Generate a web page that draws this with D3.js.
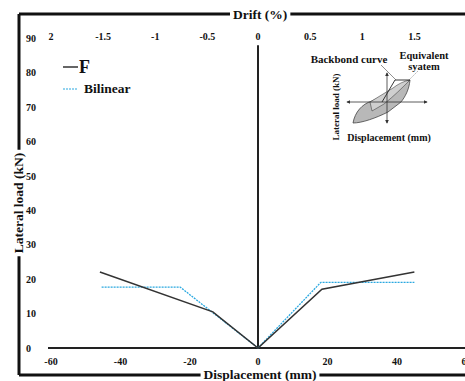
<!DOCTYPE html>
<html>
<meta charset="utf-8">
<head>
<style>
body { margin: 0; background: #fff; }
text { font-family: "Liberation Serif", "Times New Roman", serif; font-weight: bold; fill: #111; }
</style>
</head>
<body>
<svg width="465" height="381"></svg>
<script src="https://cdn.jsdelivr.net/npm/d3@7/dist/d3.min.js"></script>
<script>

// data
var fDisp = [-45.5, -13, 0, 18.4, 45];
var fLoad = [22.1, 10.5, 0, 17.1, 22.1];
var biDisp = [-45, -22.4, 0, 18.1, 45];
var biLoad = [17.7, 17.7, 0, 19.1, 19.1];

var xTicks = [-60, -40, -20, 0, 20, 40, 60];
var yTicks = [0, 10, 20, 30, 40, 50, 60, 70, 80, 90];
var driftTicks = [-2, -1.5, -1, -0.5, 0, 0.5, 1, 1.5];
var driftLabels = ["2", "-1.5", "-1", "-0.5", "0", "0.5", "1", "1.5"];

var svg = d3.select("svg"),
    width = +svg.attr("width"),
    height = +svg.attr("height");

var x = d3.scaleLinear().domain([-60, 60]).range([49.5, 466.5]);
var xDrift = d3.scaleLinear().domain([-2, 2]).range([49.5, 466.5]);
var y = d3.scaleLinear().domain([0, 90]).range([348, 38.4]);

// frame with gaps for titles
var L = 19, T = 14, B = 375;

var driftT = svg.append("text").attr("x", 233).attr("y", 18.5)
    .style("font-size", "13.5px").text("Drift (%)");
var dispT = svg.append("text").attr("x", 260).attr("y", 378.5)
    .attr("text-anchor", "middle").style("font-size", "13.5px").text("Displacement (mm)");
var loadT = svg.append("text").attr("transform", "translate(23,203) rotate(-90)")
    .attr("text-anchor", "middle").style("font-size", "13.5px").text("Lateral load (kN)");

var db = driftT.node().getBBox(), bb = dispT.node().getBBox(), lb = loadT.node().getBBox();

var frame = [
  [L, T, db.x - 3, T],
  [db.x + db.width + 3, T, width, T],
  [L, T, L, 203 - lb.width / 2 - 3],
  [L, 203 + lb.width / 2 + 3, L, B],
  [L, B, bb.x - 3, B],
  [bb.x + bb.width + 3, B, width, B]
];
svg.append("g").selectAll("line").data(frame).enter().append("line")
    .attr("x1", function(d) { return d[0]; }).attr("y1", function(d) { return d[1]; })
    .attr("x2", function(d) { return d[2]; }).attr("y2", function(d) { return d[3]; })
    .attr("stroke", "#111").attr("stroke-width", 3);

// zero axes
svg.append("line").attr("x1", 48).attr("x2", width).attr("y1", y(0)).attr("y2", y(0))
    .attr("stroke", "#222").attr("stroke-width", 2);
svg.append("line").attr("x1", x(0)).attr("x2", x(0)).attr("y1", y(0)).attr("y2", y(88))
    .attr("stroke", "#222").attr("stroke-width", 2);

// tick labels
svg.append("g").selectAll("text").data(xTicks).enter().append("text")
    .attr("x", function(d) { return x(d) + (d < 0 ? 1.5 : 0); }).attr("y", 365)
    .attr("text-anchor", "middle").style("font-size", "10px")
    .text(function(d) { return d; });

svg.append("g").selectAll("text").data(yTicks).enter().append("text")
    .attr("x", 26).attr("y", function(d) { return y(d) + 3.5; })
    .style("font-size", "10px")
    .text(function(d) { return d; });

svg.append("g").selectAll("text").data(driftTicks).enter().append("text")
    .attr("x", function(d) { return xDrift(d) + (d < 0 ? 1.5 : 0); }).attr("y", 40)
    .attr("text-anchor", "middle").style("font-size", "10px")
    .text(function(d, i) { return driftLabels[i]; });

// series
var line = d3.line().x(function(d) { return x(d[0]); }).y(function(d) { return y(d[1]); });

svg.append("path").datum(biDisp.map(function(d, i) { return [d, biLoad[i]]; }))
    .attr("d", line).attr("fill", "none").attr("stroke", "#2aa8e0")
    .attr("stroke-width", 1.3).attr("stroke-dasharray", "2,1");

svg.append("path").datum(fDisp.map(function(d, i) { return [d, fLoad[i]]; }))
    .attr("d", line).attr("fill", "none").attr("stroke", "#333")
    .attr("stroke-width", 1.5);

// legend
svg.append("line").attr("x1", 63).attr("x2", 78).attr("y1", 67).attr("y2", 67)
    .attr("stroke", "#333").attr("stroke-width", 1.5);
svg.append("text").attr("x", 79).attr("y", 73).style("font-size", "18px").text("F");
svg.append("line").attr("x1", 63).attr("x2", 78).attr("y1", 89).attr("y2", 89)
    .attr("stroke", "#2aa8e0").attr("stroke-width", 1.2).attr("stroke-dasharray", "2,1");
svg.append("text").attr("x", 84).attr("y", 93).style("font-size", "13.5px").text("Bilinear");

// inset sketch
var ins = svg.append("g");
var ix = 387, iy = 102;
ins.append("defs").append("marker").attr("id", "ar").attr("viewBox", "0 0 6 6")
    .attr("refX", 5).attr("refY", 3).attr("markerWidth", 5).attr("markerHeight", 5)
    .attr("orient", "auto-start-reverse")
  .append("path").attr("d", "M0,0L6,3L0,6Z").attr("fill", "#333");

ins.append("path")
    .attr("d", "M353,123 C355,112 362,104 372,101 L393,91 C400,85 405,82 410,80 C409,90 405,97 401,102 L388,112 C376,118 362,123 353,123 Z")
    .attr("fill", "#b8b8b8").attr("stroke", "#444").attr("stroke-width", 0.8);
ins.append("path")
    .attr("d", "M370,102 L393,88 C398,84 404,81 410,80 C402,88 394,96 384,104 L372,111 Z")
    .attr("fill", "#cfcfcf").attr("stroke", "#444").attr("stroke-width", 0.6);
ins.append("path").attr("d", "M382,102 L395,80 L410,80")
    .attr("fill", "none").attr("stroke", "#222").attr("stroke-width", 0.9);

ins.append("line").attr("x1", 347).attr("x2", 427).attr("y1", iy).attr("y2", iy)
    .attr("stroke", "#333").attr("stroke-width", 0.8)
    .attr("marker-start", "url(#ar)").attr("marker-end", "url(#ar)");
ins.append("line").attr("x1", ix).attr("x2", ix).attr("y1", 73).attr("y2", 123)
    .attr("stroke", "#333").attr("stroke-width", 0.8)
    .attr("marker-start", "url(#ar)").attr("marker-end", "url(#ar)");

ins.append("line").attr("x1", 381).attr("y1", 65).attr("x2", 396).attr("y2", 80)
    .attr("stroke", "#444").attr("stroke-width", 0.6);
ins.append("line").attr("x1", 418).attr("y1", 71).attr("x2", 409).attr("y2", 80)
    .attr("stroke", "#888").attr("stroke-width", 0.6).attr("stroke-dasharray", "2,1");

ins.append("text").attr("x", 349).attr("y", 63).attr("text-anchor", "middle")
    .style("font-size", "11px").text("Backbond curve");
ins.append("text").attr("x", 424).attr("y", 58.5).attr("text-anchor", "middle")
    .style("font-size", "10.5px").text("Equivalent");
ins.append("text").attr("x", 424).attr("y", 69.5).attr("text-anchor", "middle")
    .style("font-size", "10.5px").text("syatem");
ins.append("text").attr("transform", "translate(339,107) rotate(-90)").attr("text-anchor", "middle")
    .style("font-size", "9px").text("Lateral load (kN)");
ins.append("text").attr("x", 389).attr("y", 141).attr("text-anchor", "middle")
    .style("font-size", "10px").text("Displacement (mm)");

</script>
</body>
</html>
